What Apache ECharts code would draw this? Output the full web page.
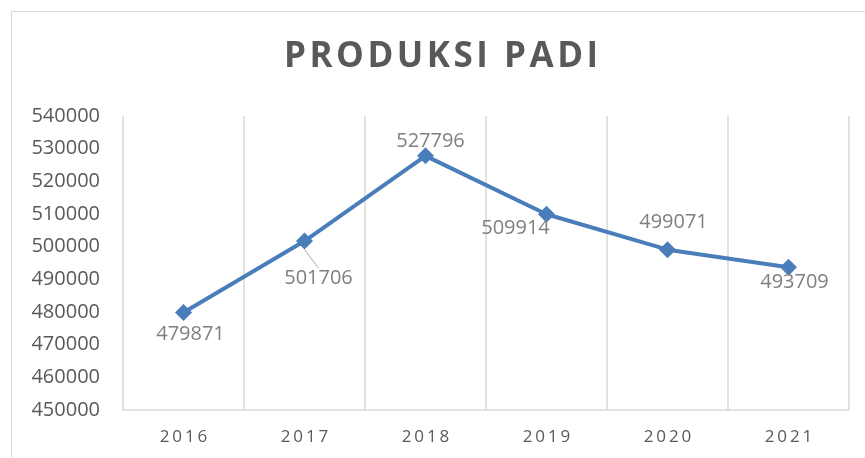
<!DOCTYPE html>
<html>
<head>
<meta charset="utf-8">
<script src="https://cdn.jsdelivr.net/npm/echarts@6/dist/echarts.min.js"></script>
<style>
  html, body { margin: 0; padding: 0; background: #fff; }
  #container { width: 865px; height: 458px; }
</style>
</head>
<body>
<div id="container"></div>
<script>
// Datos del gráfico
var titleText = 'PRODUKSI PADI';
var years = ['2016', '2017', '2018', '2019', '2020', '2021'];
var produksi = [479871, 501706, 527796, 509914, 499071, 493709];
var yTicks = { min: 450000, max: 540000, interval: 10000 };

// Desplazamiento de cada etiqueta respecto a su punto (solo estilo)
var labelShift = [[7, 22], [14, 37], [5, -15], [-31, 14], [6, -27], [6, 15]];

// Espaciado entre letras (zrender no tiene letterSpacing)
function spaced(s, sep) {
    return s.split('').join(sep || '\u2009');
}

var dom = document.getElementById('container');
var myChart = echarts.init(dom);

var option = {
    animation: false,
    title: {
        text: spaced(titleText, '\u200A'),
        left: 279,
        top: 35,
        textStyle: {
            fontFamily: 'Open Sans',
            fontWeight: 'bold',
            fontSize: 35,
            color: '#595959'
        }
    },
    graphic: [{
        type: 'rect',
        shape: { x: 11.5, y: 11.5, width: 900, height: 500 },
        style: { fill: 'none', stroke: '#d9d9d9', lineWidth: 1 },
        silent: true
    }],
    grid: {
        left: 123,
        right: 16,
        top: 116,
        bottom: 48
    },
    xAxis: {
        type: 'category',
        data: years,
        boundaryGap: true,
        axisLine: { lineStyle: { color: '#d9d9d9', width: 1.5 } },
        axisTick: { show: false },
        splitLine: { show: true, lineStyle: { color: '#d9d9d9', width: 1.5 } },
        axisLabel: {
            margin: 19,
            fontFamily: 'Open Sans',
            fontSize: 17,
            color: '#595959',
            formatter: function (v) { return spaced(v); }
        }
    },
    yAxis: {
        type: 'value',
        min: yTicks.min,
        max: yTicks.max,
        interval: yTicks.interval,
        axisLine: { show: false },
        axisTick: { show: false },
        splitLine: { show: false },
        axisLabel: {
            margin: 23,
            fontFamily: 'Open Sans',
            fontSize: 20,
            color: '#595959',
            formatter: function (v) { return String(v); }
        }
    },
    series: [{
        type: 'line',
        data: produksi.map(function (v, i) {
            var item = { value: v };
            if (i === 1) {
                item.labelLine = { show: true, lineStyle: { color: '#a6a6a6', width: 1 } };
            }
            return item;
        }),
        symbol: 'diamond',
        symbolSize: 17,
        lineStyle: { color: '#4a7ebb', width: 4 },
        itemStyle: { color: '#4a7ebb' },
        label: {
            show: true,
            position: 'inside',
            fontFamily: 'Open Sans',
            fontSize: 20,
            color: '#7f7f7f'
        },
        labelLayout: function (params) {
            var s = labelShift[params.dataIndex];
            return { dx: s[0], dy: s[1] };
        },
        labelLine: { show: false }
    }]
};

myChart.setOption(option);
window.addEventListener('resize', myChart.resize);
</script>
</body>
</html>
